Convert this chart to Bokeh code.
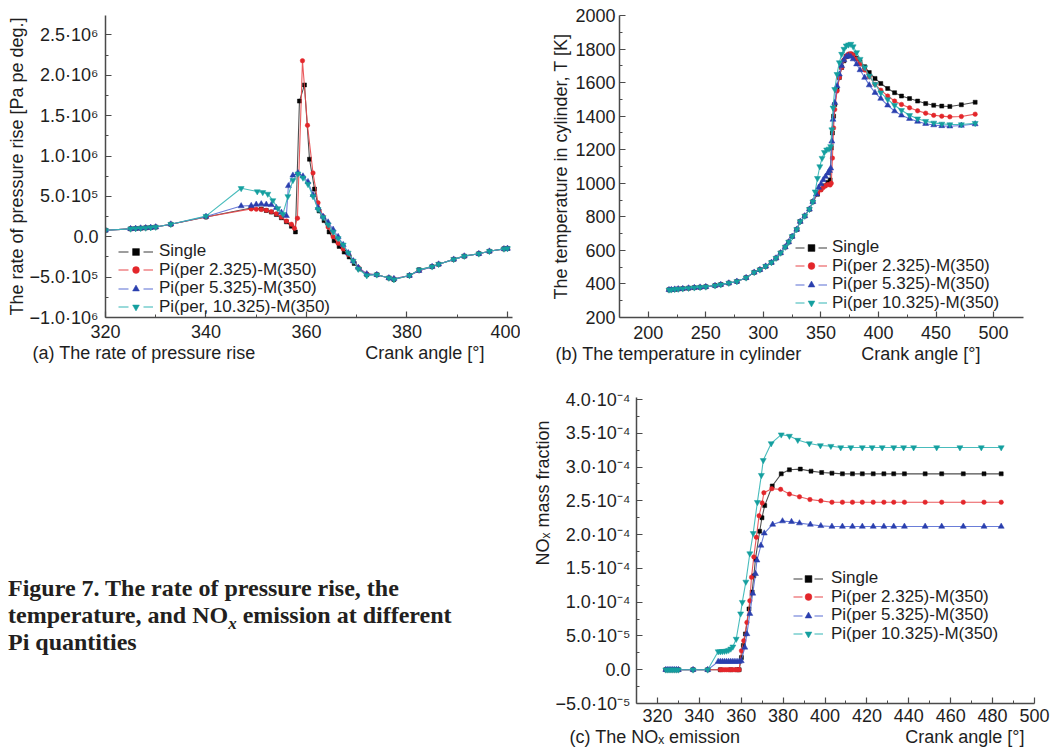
import math
from bokeh.plotting import figure
from bokeh.models import FixedTicker, Legend, LegendItem, Div, Range1d, Title
from bokeh.layouts import column, row
from bokeh.embed import file_html
from bokeh.resources import INLINE

# ---------------- data ----------------
LABELS_A = ["Single", "Pi(per 2.325)-M(350)", "Pi(per 5.325)-M(350)", "Pi(per, 10.325)-M(350)"]
LABELS_BC = ["Single", "Pi(per 2.325)-M(350)", "Pi(per 5.325)-M(350)", "Pi(per 10.325)-M(350)"]

# (a) rate of pressure rise [Pa per deg]
A_X_SINGLE = [320, 325, 326, 327, 328, 329, 330, 333, 340, 349, 351, 352, 353, 354, 355, 356, 357, 357.8,
              358.6, 359.6, 360.6, 361.6, 362.5, 363.5, 364.5, 365.5, 366.5, 367.5, 368.5, 369.5, 370.5,
              372, 374, 376.4, 377.4, 380.5, 382.4, 385, 386.3, 389.3, 391.4, 394.3, 396.4, 399.3, 400]
A_Y_SINGLE = [0.80e5, 0.98e5, 1.02e5, 1.06e5, 1.10e5, 1.14e5, 1.20e5, 1.55e5, 2.45e5,
              3.57e5, 3.45e5, 3.25e5, 3.05e5, 2.75e5, 2.35e5, 1.85e5, 1.30e5, 0.60e5,
              1.68e6, 1.88e6, 0.96e6, 0.59e6, 0.32e6, 0.20e6, 0.06e6, -0.05e6, -0.12e6, -0.19e6,
              -0.25e6, -0.33e6, -0.40e6,
              -0.47e6, -0.47e6, -0.51e6, -0.53e6, -0.48e6, -0.41e6, -0.37e6, -0.34e6, -0.28e6,
              -0.24e6, -0.21e6, -0.18e6, -0.15e6, -0.145e6]
A_X_RED = [320, 325, 326, 327, 328, 329, 330, 333, 340, 349, 350, 351, 352, 353, 354, 355, 356, 357,
           357.6, 358.2, 359.2, 360.2, 361.3, 362.3, 363.3, 364.3, 365.3, 366.3, 367.3, 368.3, 369.3, 370.3,
           372, 374, 376.4, 377.4, 380.5, 382.4, 385, 386.3, 389.3, 391.4, 394.3, 396.4, 399.3, 400]
A_Y_RED = [0.80e5, 0.98e5, 1.02e5, 1.06e5, 1.10e5, 1.14e5, 1.20e5, 1.55e5, 2.45e5,
           3.45e5, 3.42e5, 3.38e5, 3.28e5, 3.10e5, 2.85e5, 2.45e5, 1.95e5, 1.55e5,
           1.05e5, 2.3e5, 2.18e6, 1.38e6, 0.79e6, 0.42e6, 0.25e6, 0.12e6, 0.0, -0.08e6, -0.15e6,
           -0.22e6, -0.30e6, -0.38e6,
           -0.46e6, -0.47e6, -0.51e6, -0.52e6, -0.48e6, -0.42e6, -0.37e6, -0.34e6, -0.28e6,
           -0.24e6, -0.21e6, -0.18e6, -0.15e6, -0.145e6]
A_X_BLUE = [320, 325, 326, 327, 328, 329, 330, 333, 340, 347, 349, 350, 351, 352, 353, 354, 355, 356,
            356.4, 357.3, 358.3, 359.3, 360.3, 361.3, 362.3, 363.3, 364.3, 365.3, 366.3, 367.3, 368.3,
            369.3, 370.3,
            372, 374, 376.4, 377.4, 380.5, 382.4, 385, 386.3, 389.3, 391.4, 394.3, 396.4, 399.3, 400]
A_Y_BLUE = [0.80e5, 0.98e5, 1.02e5, 1.06e5, 1.10e5, 1.14e5, 1.20e5, 1.55e5, 2.5e5,
            3.8e5, 3.85e5, 4.0e5, 4.05e5, 4.0e5, 3.95e5, 3.6e5, 3.0e5, 2.6e5,
            6.3e5, 7.6e5, 7.9e5, 7.5e5, 6.8e5, 5.2e5, 3.6e5, 2.5e5, 1.8e5, 0.9e5, 0.0, -0.1e6,
            -0.2e6, -0.3e6, -0.38e6,
            -0.46e6, -0.47e6, -0.51e6, -0.52e6, -0.48e6, -0.42e6, -0.37e6, -0.34e6, -0.28e6,
            -0.24e6, -0.21e6, -0.18e6, -0.15e6, -0.145e6]
A_X_TEAL = [320, 325, 326, 327, 328, 329, 330, 333, 340, 347, 350.2, 351.3, 352.3, 353.3, 354.3, 355.3,
            356.3, 357.3, 358.3, 359.3, 360.3, 361.3, 362.3, 363.3, 364.3, 365.3, 366.3, 367.3, 368.3,
            369.3, 370.3,
            372, 374, 376.4, 377.4, 380.5, 382.4, 385, 386.3, 389.3, 391.4, 394.3, 396.4, 399.3, 400]
A_Y_TEAL = [0.80e5, 0.98e5, 1.02e5, 1.06e5, 1.10e5, 1.14e5, 1.20e5, 1.55e5, 2.55e5,
            6.0e5, 5.6e5, 5.5e5, 5.3e5, 4.5e5, 3.5e5, 2.8e5,
            5.0e5, 7.0e5, 7.8e5, 7.3e5, 6.5e5, 5.0e5, 3.4e5, 2.4e5, 1.5e5, 0.6e5, -0.02e6, -0.1e6,
            -0.2e6, -0.3e6, -0.4e6,
            -0.48e6, -0.47e6, -0.51e6, -0.53e6, -0.48e6, -0.41e6, -0.37e6, -0.34e6, -0.28e6,
            -0.24e6, -0.21e6, -0.18e6, -0.15e6, -0.145e6]

# (b) temperature in cylinder [K]
B_X_START = [218, 220, 223, 226, 230, 235, 240, 245, 250, 258, 263, 270, 277, 285, 292, 297, 302, 307,
             311, 315, 319, 322, 325, 329, 332, 336, 340, 343]
B_Y_START = [365, 366, 368, 370, 372, 375, 378, 380, 383, 390, 396, 405, 415, 437, 469, 485, 505, 528,
             554, 585, 620, 650, 683, 725, 772, 805, 845, 890]
B_X_SINGLE = [347, 350, 353, 356, 358, 359, 360, 361, 362, 364, 366, 368, 370, 372, 374, 376, 378, 381,
              384, 388, 392, 397, 402, 408, 414, 420, 427, 434, 441, 448, 455, 462, 472, 484]
B_Y_SINGLE = [935, 965, 985, 1005, 1020, 1210, 1300, 1400, 1470, 1560, 1630, 1690, 1730, 1755, 1765,
              1770, 1765, 1745, 1725, 1695, 1660, 1625, 1595, 1565, 1540, 1520, 1505, 1490, 1475, 1465,
              1460, 1458, 1468, 1483]
B_X_RED = [347, 350, 352, 354, 356, 358, 359, 360, 361, 362, 364, 366, 368, 370, 372, 374, 376, 378, 381,
           384, 388, 392, 397, 402, 408, 414, 420, 427, 434, 441, 448, 455, 462, 472, 484]
B_Y_RED = [940, 960, 975, 985, 992, 990, 1000, 1150, 1330, 1440, 1550, 1630, 1690, 1735, 1760, 1770,
           1772, 1765, 1740, 1712, 1675, 1635, 1590, 1555, 1520, 1490, 1470, 1450, 1432, 1418, 1405,
           1400, 1396, 1398, 1412]
B_X_BLUE = [346, 348, 350, 352, 354, 356, 357.5, 358.5, 359.5, 360.5, 362, 364, 366, 368, 370, 372, 374,
            376, 378, 381, 384, 388, 392, 397, 402, 408, 414, 420, 427, 434, 441, 448, 455, 462, 472, 484]
B_Y_BLUE = [935, 975, 995, 1020, 1040, 1060, 1075, 1090, 1250, 1380, 1480, 1580, 1650, 1700, 1735, 1755,
            1760, 1755, 1740, 1710, 1675, 1630, 1585, 1540, 1505, 1465, 1430, 1405, 1385, 1368, 1355,
            1347, 1342, 1340, 1344, 1353]
B_X_TEAL = [345, 347, 349, 351, 353, 355, 357, 358.5, 359.5, 360.5, 362, 364, 366, 368, 370, 372, 374,
            376, 378, 381, 384, 388, 392, 397, 402, 408, 414, 420, 427, 434, 441, 448, 455, 462, 472, 484]
B_Y_TEAL = [950, 1030, 1100, 1150, 1185, 1200, 1205, 1220, 1320, 1450, 1560, 1650, 1720, 1770, 1800,
            1820, 1826, 1830, 1815, 1780, 1740, 1690, 1640, 1590, 1540, 1500, 1465, 1435, 1405, 1385,
            1370, 1360, 1354, 1350, 1350, 1358]

# (c) NOx mass fraction
C_X_START = [324, 325, 326, 327, 328, 329, 330, 337, 344]
C_Y_START = [0.0, 0.0, 0.0, 0.0, 0.0, 0.0, 0.0, 0.0, 0.0]
C_X_SINGLE = [350, 355, 358, 359, 360.1, 361, 362, 363.7, 365.2, 366, 366.8, 368.8, 369.9, 371.2, 374.8,
              379.1, 383, 388.2, 393.3, 398.4, 403.3, 408.3, 413.1, 417.8, 423, 428.1, 432.8, 437.9,
              447.8, 455.7, 466, 475.9, 484.1]
C_Y_SINGLE = [0.0, 0.0, 0.0, 0.0, 1.8e-5, 3.6e-5, 5.3e-5, 9.0e-5, 1.15e-4, 1.39e-4, 1.64e-4, 2.05e-4,
              2.25e-4, 2.43e-4, 2.72e-4, 2.9e-4, 2.96e-4, 2.97e-4, 2.94e-4, 2.92e-4, 2.91e-4, 2.9e-4,
              2.9e-4, 2.9e-4, 2.9e-4, 2.9e-4, 2.9e-4, 2.9e-4, 2.9e-4, 2.9e-4, 2.9e-4, 2.9e-4, 2.9e-4]
C_X_RED = [350, 351, 352, 353, 354, 355, 356, 357, 358, 359, 360.1, 361.2, 362.7, 364.1, 364.9, 366,
           367.2, 368.5, 370, 370.8, 374.6, 378.8, 383, 387.8, 392.8, 398, 403.3, 408.3, 413.1, 417.8,
           423, 428.1, 432.8, 437.9, 447.8, 455.7, 466, 475.9, 484.1]
C_Y_RED = [0.0, 0.0, 0.0, 0.0, 0.0, 0.0, 0.0, 0.0, 0.0, 0.0, 2.8e-5, 4.3e-5, 7.0e-5, 1.02e-4, 1.37e-4,
           1.67e-4, 1.96e-4, 2.28e-4, 2.47e-4, 2.62e-4, 2.68e-4, 2.67e-4, 2.6e-4, 2.56e-4, 2.52e-4,
           2.5e-4, 2.48e-4, 2.48e-4, 2.48e-4, 2.48e-4, 2.48e-4, 2.48e-4, 2.48e-4, 2.48e-4, 2.48e-4,
           2.48e-4, 2.48e-4, 2.48e-4, 2.48e-4]
C_X_BLUE = [349, 350, 351, 352, 353, 354, 355, 356, 357, 358, 359, 360, 361.7, 362.7, 364.1, 365.5, 366.8,
            367.5, 369.4, 371, 375, 379.7, 384, 387.8, 393, 398, 403.3, 408.3, 413.1, 417.8, 423, 428.1,
            432.8, 437.9, 447.8, 455.7, 466, 475.9, 484.1]
C_Y_BLUE = [1.2e-5, 1.2e-5, 1.2e-5, 1.2e-5, 1.2e-5, 1.2e-5, 1.2e-5, 1.2e-5, 1.2e-5, 1.2e-5, 1.2e-5,
            1.3e-5, 3.3e-5, 5.3e-5, 8.3e-5, 1.13e-4, 1.42e-4, 1.62e-4, 1.84e-4, 2.02e-4, 2.15e-4,
            2.2e-4, 2.19e-4, 2.17e-4, 2.15e-4, 2.13e-4, 2.12e-4, 2.12e-4, 2.12e-4, 2.12e-4, 2.12e-4,
            2.12e-4, 2.12e-4, 2.12e-4, 2.12e-4, 2.12e-4, 2.12e-4, 2.12e-4, 2.12e-4]
C_X_TEAL = [349, 350, 351, 352, 353, 354, 355, 356, 357.6, 359.7, 360.5, 362.2, 364.1, 365.7, 367.7,
            369.6, 370.5, 374.3, 379.1, 383, 387, 392.5, 397.8, 402.8, 407.5, 412.3, 417.8, 422.5,
            427.3, 432.8, 437.5, 442.3, 453.3, 464.4, 474.6, 484.1]
C_Y_TEAL = [2.7e-5, 2.7e-5, 2.72e-5, 2.75e-5, 2.8e-5, 2.9e-5, 3.1e-5, 3.4e-5, 4.55e-5, 8.3e-5, 1.0e-4,
            1.3e-4, 1.72e-4, 2.02e-4, 2.48e-4, 2.88e-4, 3.1e-4, 3.35e-4, 3.48e-4, 3.46e-4, 3.4e-4,
            3.35e-4, 3.32e-4, 3.31e-4, 3.29e-4, 3.29e-4, 3.29e-4, 3.29e-4, 3.29e-4, 3.29e-4, 3.29e-4,
            3.29e-4, 3.29e-4, 3.29e-4, 3.29e-4, 3.29e-4]

# tick values and labels
A_XTICKS = [320, 340, 360, 380, 400]
A_XMINOR = [330, 350, 370, 390]
A_YTICKS = [-1.0e6, -5.0e5, 0.0, 5.0e5, 1.0e6, 1.5e6, 2.0e6, 2.5e6]
A_YLABELS = ["\u22121.0\u00b710\u2076", "\u22125.0\u00b710\u2075", "0.0", "5.0\u00b710\u2075",
             "1.0\u00b710\u2076", "1.5\u00b710\u2076", "2.0\u00b710\u2076", "2.5\u00b710\u2076"]
A_YMINOR = [-7.5e5, -2.5e5, 2.5e5, 7.5e5, 1.25e6, 1.75e6, 2.25e6]

B_XTICKS = [200, 250, 300, 350, 400, 450, 500]
B_XMINOR = [225, 275, 325, 375, 425, 475]
B_YTICKS = [200, 400, 600, 800, 1000, 1200, 1400, 1600, 1800, 2000]
B_YMINOR = [300, 500, 700, 900, 1100, 1300, 1500, 1700, 1900]

C_XTICKS = [320, 340, 360, 380, 400, 420, 440, 460, 480, 500]
C_XMINOR = [330, 350, 370, 390, 410, 430, 450, 470, 490]
C_YTICKS = [-5.0e-5, 0.0, 5.0e-5, 1.0e-4, 1.5e-4, 2.0e-4, 2.5e-4, 3.0e-4, 3.5e-4, 4.0e-4]
C_YLABELS = ["\u22125.0\u00b710\u207b\u2075", "0.0", "5.0\u00b710\u207b\u2075", "1.0\u00b710\u207b\u2074",
             "1.5\u00b710\u207b\u2074", "2.0\u00b710\u207b\u2074", "2.5\u00b710\u207b\u2074",
             "3.0\u00b710\u207b\u2074", "3.5\u00b710\u207b\u2074", "4.0\u00b710\u207b\u2074"]
C_YMINOR = [-2.5e-5, 2.5e-5, 7.5e-5, 1.25e-4, 1.75e-4, 2.25e-4, 2.75e-4, 3.25e-4, 3.75e-4]

NB = "\u00a0"
A_BOTTOM = "(a) The rate of pressure rise" + NB * 22 + "Crank angle [\u00b0]"
B_BOTTOM = "(b) The temperature in cylinder" + NB * 12 + "Crank angle [\u00b0]"
C_BOTTOM = "(c) The NO\u2093 emission" + NB * 33 + "Crank angle [\u00b0]"

# ---------------- styles ----------------
FONT = "Liberation Sans"
FS = "18px"
LEG_FS = "17px"
TXT = "#1e1e1e"
AX = "#4a4a4a"
LINE_COLORS = ["#3c3c3c", "#e8474a", "#5a6fd4", "#34b5b5"]
MARK_COLORS = ["#050505", "#e3262b", "#2a3fae", "#149f9f"]
MARKERS = ["square", "circle", "triangle", "inverted_triangle"]
MSIZE = [4, 4.5, 6, 6]
NAN = [float("nan")]


def make_fig(width, height, xr, yr, bl, br, bt, bb):
    p = figure(width=width, height=height, x_range=Range1d(*xr), y_range=Range1d(*yr),
               output_backend="svg", toolbar_location=None,
               min_border_left=bl, min_border_right=br, min_border_top=bt, min_border_bottom=bb)
    p.grid.visible = False
    p.outline_line_color = None
    p.background_fill_color = "white"
    p.border_fill_color = "white"
    for ax in (p.xaxis[0], p.yaxis[0]):
        ax.axis_line_color = AX
        ax.axis_line_width = 1.5
        ax.major_tick_in = 6
        ax.major_tick_out = 0
        ax.minor_tick_in = 3
        ax.minor_tick_out = 0
        ax.major_tick_line_color = AX
        ax.minor_tick_line_color = AX
        ax.major_tick_line_width = 1.2
        ax.minor_tick_line_width = 1.0
        ax.major_label_text_font = FONT
        ax.major_label_text_font_size = FS
        ax.major_label_text_color = TXT
    return p


def set_ticks(axis, ticks, minor, labels=None):
    axis.ticker = FixedTicker(ticks=ticks, minor_ticks=minor)
    if labels is not None:
        axis.major_label_overrides = {t: s for t, s in zip(ticks, labels)}


def add_series(p, xs_list, ys_list, labels, leg_x, leg_ys, gw, dash, standoff):
    for i, (xs, ys) in enumerate(zip(xs_list, ys_list)):
        p.line(xs, ys, line_color=LINE_COLORS[i], line_width=1.1, line_alpha=0.9)
        p.scatter(xs, ys, marker=MARKERS[i], size=MSIZE[i], fill_color=MARK_COLORS[i],
                  line_color=MARK_COLORS[i], line_width=0.5)
    for i, lab in enumerate(labels):
        # legend proxies (no visible data)
        lr = p.line(NAN, NAN, line_color=LINE_COLORS[i], line_width=1.2, line_dash=dash)
        sr = p.scatter(NAN, NAN, marker=MARKERS[i], size=MSIZE[i], fill_color=MARK_COLORS[i],
                       line_color=MARK_COLORS[i], line_width=0.5)
        leg = Legend(items=[LegendItem(label=lab, renderers=[lr, sr])], location=(leg_x, leg_ys[i]),
                     orientation="vertical", glyph_width=gw, glyph_height=17, label_height=17,
                     spacing=0, padding=0, margin=0, label_standoff=standoff,
                     border_line_color=None, background_fill_alpha=0,
                     label_text_font=FONT, label_text_font_size=LEG_FS, label_text_color=TXT)
        p.add_layout(leg)


def add_title(p, text, side, align, offset, standoff):
    t = Title(text=text, align=align, offset=offset, standoff=standoff,
              text_font=FONT, text_font_size=FS, text_font_style="normal", text_color=TXT)
    p.add_layout(t, side)


# ---------------- panel (a) ----------------
pa = make_fig(520, 380, (320, 401), (-1.0e6, 2.74e6), 105, 8, 13, 63)
set_ticks(pa.xaxis[0], A_XTICKS, A_XMINOR)
set_ticks(pa.yaxis[0], A_YTICKS, A_YMINOR, A_YLABELS)
pa.xaxis[0].major_label_standoff = 7
pa.yaxis[0].major_label_standoff = 7
add_series(pa, [A_X_SINGLE, A_X_RED, A_X_BLUE, A_X_TEAL],
           [A_Y_SINGLE, A_Y_RED, A_Y_BLUE, A_Y_TEAL], LABELS_A, 13, [56, 37.5, 19, 0.5], 35, "10 15", 6)
add_title(pa, "The rate of pressure rise [Pa pe deg.]", "left", "center", 0, 0)
add_title(pa, A_BOTTOM, "below", "left", -73, 0)

# ---------------- panel (b) ----------------
pb = make_fig(532, 380, (175, 526), (200, 2000), 99, 29, 15, 62)
set_ticks(pb.xaxis[0], B_XTICKS, B_XMINOR)
set_ticks(pb.yaxis[0], B_YTICKS, B_YMINOR)
pb.xaxis[0].major_label_standoff = 8
pb.yaxis[0].major_label_standoff = 4
add_series(pb, [B_X_START + B_X_SINGLE, B_X_START + B_X_RED, B_X_START + B_X_BLUE, B_X_START + B_X_TEAL],
           [B_Y_START + B_Y_SINGLE, B_Y_START + B_Y_RED, B_Y_START + B_Y_BLUE, B_Y_START + B_Y_TEAL],
           LABELS_BC, 176, [60, 41.5, 23, 4.5], 32, "9 14", 5)
add_title(pb, "The temperature in cylinder, T [K]", "left", "center", 0, 4)
add_title(pb, B_BOTTOM, "below", "left", -64, 0)

# ---------------- panel (c) ----------------
pc = make_fig(532, 369, (310, 500), (-5.0e-5, 4.03e-4), 100, 28, 17, 46)
set_ticks(pc.xaxis[0], C_XTICKS, C_XMINOR)
set_ticks(pc.yaxis[0], C_YTICKS, C_YMINOR, C_YLABELS)
pc.xaxis[0].major_label_standoff = 5
pc.yaxis[0].major_label_standoff = 6
add_series(pc, [C_X_START + C_X_SINGLE, C_X_START + C_X_RED, C_X_START + C_X_BLUE, C_X_START + C_X_TEAL],
           [C_Y_START + C_Y_SINGLE, C_Y_START + C_Y_RED, C_Y_START + C_Y_BLUE, C_Y_START + C_Y_TEAL],
           LABELS_BC, 157, [115, 96.5, 78, 59.5], 30, "9 12", 8)
add_title(pc, "NO\u2093 mass fraction", "left", "left", 138, 0)
add_title(pc, C_BOTTOM, "below", "left", -67, 0)

# ---------------- caption ----------------
caption = Div(
    text=('<div style="font-family: \'Liberation Serif\', \'Times New Roman\', serif; font-weight: bold; '
          'font-size: 24px; line-height: 27px; color: #231f20; margin: 190px 0 0 3px; '
          'white-space: nowrap;">'
          'Figure 7. The rate of pressure rise, the<br>'
          'temperature, and NO<sub style="font-style: italic; font-size: 17px; line-height: 0;">x</sub>'
          ' emission at different<br>'
          'Pi quantities</div>'),
    width=520, height=369)

layout = column(row(pa, pb), row(caption, pc))

with open("out.html", "w") as f:
    f.write(file_html(layout, INLINE))
